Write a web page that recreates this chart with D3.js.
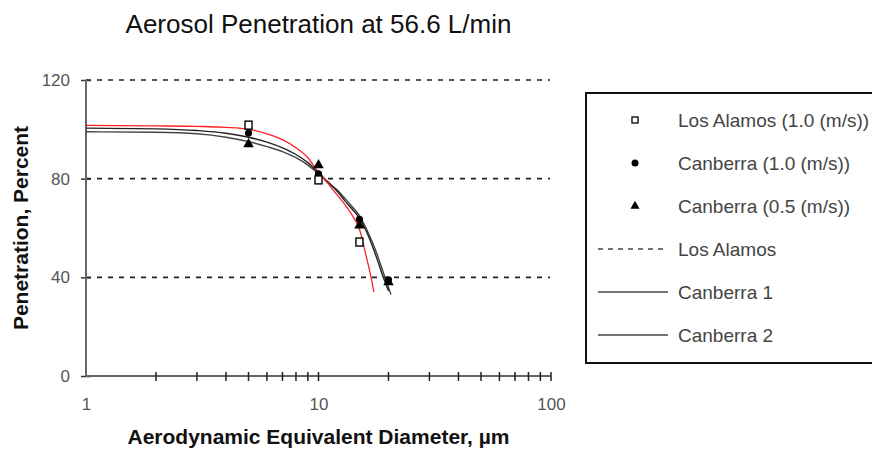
<!DOCTYPE html>
<html>
<head>
<meta charset="utf-8">
<script src="https://cdn.jsdelivr.net/npm/d3@7"></script>
<style>
	body { margin: 0; background: #fff; }
	svg  { display: block; font-family: Arial, "Liberation Sans", sans-serif; }
</style>
</head>
<body>
<div id="chart"></div>
<script>
// measured points (diameter in um, penetration in %)
var losAlamosDiam  = [5, 10, 15];
var losAlamosPen   = [101.7, 79.5, 54.3];
var canberra10Diam = [5, 10, 15, 20];
var canberra10Pen  = [98.5, 82, 63.5, 39];
var canberra05Diam = [5, 10, 15, 20];
var canberra05Pen  = [94, 85.5, 61, 38];

// fitted curves as [diameter, penetration]
var fitLosAlamos = [[1, 101.6], [2, 101.4], [3, 101.2], [4, 100.8], [5, 100], [6, 98.2], [7, 95.8],
	[8, 92.5], [9, 88.5], [10, 82.5], [11, 78], [12, 73.5], [13, 69.5], [14, 65], [15, 59.5],
	[16, 49], [17, 38], [17.3, 34]];
var fitCanberra1 = [[1, 100.5], [2, 100.2], [3, 99.5], [4, 98.4], [5, 96.8], [6, 94.8], [7, 92.5],
	[8, 89.8], [9, 86.5], [10, 82.5], [11, 78.5], [12, 75], [13, 71], [14, 67.5], [15, 64],
	[16, 59], [17, 53], [18, 46.5], [19, 40], [20, 34.5]];
var fitCanberra2 = [[1, 99], [2, 98.8], [3, 98.2], [4, 96.8], [5, 95], [6, 93], [7, 91],
	[8, 88.5], [9, 85.5], [10, 82], [11, 78.5], [12, 75.5], [13, 72], [14, 68.5], [15, 65],
	[16, 60], [17, 54.5], [18, 48.5], [19, 42], [20, 36], [20.5, 33]];

var yTicks     = [0, 40, 80, 120];
var yGridTicks = [40, 80, 120];
var xTicks     = [1, 10, 100];
var xMinorTicks = [2, 3, 4, 5, 6, 7, 8, 9, 20, 30, 40, 50, 60, 70, 80, 90];

var legendLabels = ['Los Alamos (1.0 (m/s))', 'Canberra (1.0 (m/s))', 'Canberra (0.5 (m/s))',
	'Los Alamos', 'Canberra 1', 'Canberra 2'];
var legendKinds  = ['square', 'circle', 'triangle', 'dash', 'line', 'line'];

function PenetrationChart(config) {
	var me = this;
	me.width  = config.width;
	me.height = config.height;
	me.margin = {top: 80, left: 86, right: 321, bottom: 75};
	me.viewWidth  = me.width  - me.margin.left - me.margin.right;
	me.viewHeight = me.height - me.margin.top  - me.margin.bottom;

	me.svg = d3.select('#' + config.parentId).append('svg')
		.attr('width',  me.width)
		.attr('height', me.height);
	me.vis = me.svg.append('g')
		.attr('transform', 'translate(' + me.margin.left + ',' + me.margin.top + ')');

	me.xScale = d3.scaleLog().domain([1, 100]).range([0, me.viewWidth]);
	me.yScale = d3.scaleLinear().domain([0, 120]).range([me.viewHeight, 0]);

	me.drawTitles();
	me.drawGrid();
	me.drawAxes();
	me.drawCurves();
	me.drawPoints();
	me.drawLegend();
}

PenetrationChart.prototype.drawTitles = function() {
	var me = this;
	var cx = me.margin.left + me.viewWidth / 2;

	me.svg.append('text')
		.attr('x', cx).attr('y', 33)
		.attr('text-anchor', 'middle')
		.style('font-size', '26px').style('fill', '#111')
		.text('Aerosol Penetration at 56.6 L/min');

	me.svg.append('text')
		.attr('x', cx).attr('y', 444)
		.attr('text-anchor', 'middle')
		.style('font-size', '21px').style('font-weight', 'bold').style('fill', '#111')
		.text('Aerodynamic Equivalent Diameter, \u00b5m');

	me.svg.append('text')
		.attr('transform', 'translate(28,' + (me.margin.top + me.viewHeight / 2) + ') rotate(-90)')
		.attr('text-anchor', 'middle')
		.style('font-size', '21px').style('font-weight', 'bold').style('fill', '#111')
		.text('Penetration, Percent');
}

PenetrationChart.prototype.drawGrid = function() {
	var me = this;
	me.vis.append('g')
		.selectAll('line')
		.data(yGridTicks)
		.enter().append('line')
		.attr('x1', 0).attr('x2', me.viewWidth - 1)
		.attr('y1', function(d) { return me.yScale(d); })
		.attr('y2', function(d) { return me.yScale(d); })
		.style('stroke', '#222').style('stroke-width', 1.6)
		.style('stroke-dasharray', '5,6');
}

PenetrationChart.prototype.drawAxes = function() {
	var me = this;

	// y axis, labels from d3 axis, crossing ticks drawn by hand
	var yAxis = d3.axisLeft(me.yScale).tickValues(yTicks).tickSize(0).tickPadding(16);
	var gy = me.vis.append('g').call(yAxis);
	gy.select('.domain').remove();
	gy.selectAll('text').style('font-size', '17px').style('fill', '#555')
		.style('font-family', 'Arial, sans-serif');
	gy.selectAll('.tick').append('line')
		.attr('x1', -5).attr('x2', 5)
		.style('stroke', '#333').style('stroke-width', 1.5);
	me.vis.append('line')
		.attr('x1', 0).attr('x2', 0)
		.attr('y1', me.yScale(120)).attr('y2', me.yScale(0))
		.style('stroke', '#666').style('stroke-width', 2);

	// x axis
	var xAxis = d3.axisBottom(me.xScale).tickValues(xTicks).tickSize(0).tickPadding(22)
		.tickFormat(d3.format('d'));
	var gx = me.vis.append('g')
		.attr('transform', 'translate(0,' + me.viewHeight + ')')
		.call(xAxis);
	gx.select('.domain').remove();
	gx.selectAll('text').style('font-size', '17px').style('fill', '#555')
		.style('font-family', 'Arial, sans-serif');
	me.vis.append('line')
		.attr('x1', 0).attr('x2', me.viewWidth)
		.attr('y1', me.viewHeight).attr('y2', me.viewHeight)
		.style('stroke', '#666').style('stroke-width', 2);
	me.vis.append('g')
		.selectAll('line')
		.data(xTicks.slice(1).concat(xMinorTicks))
		.enter().append('line')
		.attr('x1', function(d) { return me.xScale(d); })
		.attr('x2', function(d) { return me.xScale(d); })
		.attr('y1', me.viewHeight - 4).attr('y2', me.viewHeight + 5)
		.style('stroke', '#222').style('stroke-width', 1.5);
}

PenetrationChart.prototype.drawCurves = function() {
	var me = this;
	var line = d3.line()
		.curve(d3.curveMonotoneX)
		.x(function(d) { return me.xScale(d[0]); })
		.y(function(d) { return me.yScale(d[1]); });

	me.vis.append('path').attr('d', line(fitCanberra2))
		.style('fill', 'none').style('stroke', '#444').style('stroke-width', 1.4);
	me.vis.append('path').attr('d', line(fitCanberra1))
		.style('fill', 'none').style('stroke', '#222').style('stroke-width', 1.4);
	me.vis.append('path').attr('d', line(fitLosAlamos))
		.style('fill', 'none').style('stroke', '#f22').style('stroke-width', 1.3);
}

PenetrationChart.prototype.drawPoints = function() {
	var me = this;
	var tri = d3.symbol().type(d3.symbolTriangle).size(48);

	me.vis.append('g').selectAll('path')
		.data(canberra05Diam)
		.enter().append('path')
		.attr('d', tri)
		.attr('transform', function(d, i) {
			return 'translate(' + me.xScale(d) + ',' + me.yScale(canberra05Pen[i]) + ')'; })
		.style('fill', '#000');

	me.vis.append('g').selectAll('circle')
		.data(canberra10Diam)
		.enter().append('circle')
		.attr('cx', function(d) { return me.xScale(d); })
		.attr('cy', function(d, i) { return me.yScale(canberra10Pen[i]); })
		.attr('r', 3.6)
		.style('fill', '#000');

	me.vis.append('g').selectAll('rect')
		.data(losAlamosDiam)
		.enter().append('rect')
		.attr('x', function(d) { return me.xScale(d) - 3.5; })
		.attr('y', function(d, i) { return me.yScale(losAlamosPen[i]) - 4; })
		.attr('width', 7).attr('height', 8)
		.style('fill', '#fff').style('stroke', '#000').style('stroke-width', 1.4);
}

PenetrationChart.prototype.drawLegend = function() {
	var me = this;
	var lg = me.svg.append('g').attr('transform', 'translate(586,93)');

	lg.append('rect')
		.attr('width', 320).attr('height', 270)
		.style('fill', '#fff').style('stroke', '#111').style('stroke-width', 2);

	var item = lg.selectAll('g.item')
		.data(legendLabels)
		.enter().append('g')
		.attr('class', 'item')
		.attr('transform', function(d, i) { return 'translate(0,' + (27 + i * 43) + ')'; });

	item.append('text')
		.attr('x', 92).attr('dy', '0.35em')
		.style('font-size', '19px').style('fill', '#444')
		.text(function(d) { return d; });

	item.each(function(d, i) {
		var g = d3.select(this), kind = legendKinds[i];
		if (kind === 'square')
			g.append('rect').attr('x', 46).attr('y', -3).attr('width', 6).attr('height', 6)
				.style('fill', '#fff').style('stroke', '#000').style('stroke-width', 1.3);
		else if (kind === 'circle')
			g.append('circle').attr('cx', 49).attr('r', 3.5).style('fill', '#000');
		else if (kind === 'triangle')
			g.append('path').attr('d', d3.symbol().type(d3.symbolTriangle).size(36))
				.attr('transform', 'translate(49,0)').style('fill', '#000');
		else
			g.append('line').attr('x1', 12).attr('x2', 82)
				.style('stroke', '#444').style('stroke-width', 1.3)
				.style('stroke-dasharray', kind === 'dash' ? '5,5' : null);
	});
}

new PenetrationChart({parentId: 'chart', width: 872, height: 451});
</script>
</body>
</html>
